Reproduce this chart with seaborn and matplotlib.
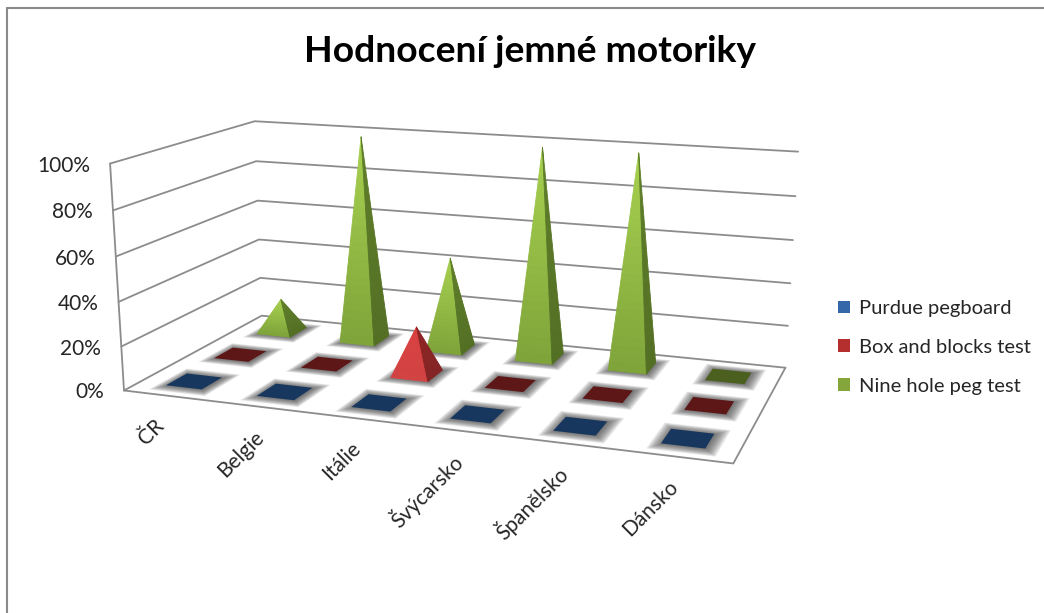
import numpy as np
import pandas as pd
import seaborn as sns
import matplotlib
matplotlib.use("Agg")
import matplotlib.pyplot as plt
from matplotlib.patches import Patch
from matplotlib.lines import Line2D
from mpl_toolkits.mplot3d.art3d import Poly3DCollection

# ---------- data ----------
countries = ["ČR", "Belgie", "Itálie", "Švýcarsko", "Španělsko", "Dánsko"]
series_names = ["Purdue pegboard", "Box and blocks test", "Nine hole peg test"]
purdue = [0, 0, 0, 0, 0, 0]
box_blocks = [0, 0, 22, 0, 0, 0]
nine_hole = [16, 99, 44, 99, 99, 0]
value_ticks = [0, 20, 40, 60, 80, 100]
title_text = "Hodnocení jemné motoriky"

df = pd.DataFrame({"country": countries, series_names[0]: purdue,
                   series_names[1]: box_blocks, series_names[2]: nine_hole})

# ---------- style ----------
sns.set_theme(style="white", rc={"font.family": ["Lato", "DejaVu Sans"]})
plt.rcParams["font.family"] = ["Lato", "DejaVu Sans"]
TEXT = "#262626"
GRID = "#8c8c8c"
styles = {
    series_names[0]: dict(flat="#17375e", lt="#4f81bd", lb="#385d8a", rt="#2a4a70", rb="#24405f", leg="#3468a8"),
    series_names[1]: dict(flat="#5e1717", lt="#d93f3f", lb="#d24343", rt="#8e2424", rb="#842424", leg="#b52f2f"),
    series_names[2]: dict(flat="#4b601f", lt="#a6d04f", lb="#7fa43a", rt="#5f7f2a", rb="#536f24", leg="#84a63a"),
}

fig = plt.figure(figsize=(10.44, 6.13), dpi=100, facecolor="white")
W, H = 1044.0, 613.0
ax = fig.add_axes([0, (H - W) / 2 / H, 1, W / H], projection="3d", computed_zorder=False)
ax.set_axis_off()
ax.set_xlim(0, 6); ax.set_ylim(0, 3); ax.set_zlim(0, 1)

# ---------- camera: x = category band, y = series band (0 front), z = share ----------
world = np.array([
    (0, 0, 0), (6, 0, 0), (6, 3, 0), (0, 3, 0),
    (0, 0, 1), (0, 0, .8), (0, 0, .6), (0, 0, .4), (0, 0, .2),
    (0, 3, 1), (0, 3, .8), (0, 3, .6), (0, 3, .4), (0, 3, .2),
    (6, 3, 1), (6, 3, .2), (6, 3, .4),
], float)
pixel = np.array([
    (123, 391), (733, 464), (785, 367), (262, 316),
    (110, 163), (113, 210), (116, 257), (119, 302), (122, 346),
    (254, 122), (256, 161), (258, 200.5), (259, 239), (260, 278),
    (798, 152), (788, 326), (791, 283),
], float)
A = []
for (X, Y, Z), (u, v) in zip(world, pixel):
    A.append([X, Y, Z, 1, 0, 0, 0, 0, -u * X, -u * Y, -u * Z, -u])
    A.append([0, 0, 0, 0, X, Y, Z, 1, -v * X, -v * Y, -v * Z, -v])
P = np.linalg.svd(np.array(A))[2][-1].reshape(3, 4)
P = P / P[2, 3]


def to_pixel(x, y, z):
    u, v, w = P @ np.array([x, y, z, 1.0])
    return u / w, v / w


def get_proj():
    # display coordinates of the square axes are figure pixels (origin bottom-left)
    T = ax.transData.inverted().get_matrix()
    rx = P[0]
    ry = H * P[2] - P[1]
    row_x = T[0, 0] * rx + T[0, 1] * ry + T[0, 2] * P[2]
    row_y = T[1, 0] * rx + T[1, 1] * ry + T[1, 2] * P[2]
    return np.array([row_x, row_y, [0, -1.0, 0, -0.01], P[2]])


ax.get_proj = get_proj


def label_at(px, py, s, **kw):
    ax.text2D(px / W, 1 - py / H, s, transform=fig.transFigure, color=TEXT, zorder=500, **kw)


# ---------- walls and floor ----------
for v in value_ticks:
    z = v / 100
    ax.plot([0, 0, 6], [0, 3, 3], [z, z, z], color=GRID, lw=1.3, zorder=1)
    u, w = to_pixel(0, 0, z)
    label_at(u - 20, w + 2, f"{v}%", ha="right", va="center", fontsize=15)
ax.plot([0, 0], [0, 0], [0, 1], color=GRID, lw=1.3, zorder=1)
ax.plot([0, 6, 6], [0, 0, 3], [0, 0, 0], color=GRID, lw=1.3, zorder=1)

for i, c in enumerate(countries):
    u, w = to_pixel(i + 0.5, 0, 0)
    nudge = 7 if i == 0 else 0
    label_at(u - 1 - nudge, w + 27, c, rotation=45, rotation_mode="anchor", ha="right", va="center", fontsize=15)

# ---------- pyramids ----------
HX, HY = 0.2, 0.21
zo = 10


def square(cx, cy, hx, hy):
    return [(cx - hx, cy - hy, 0), (cx + hx, cy - hy, 0), (cx + hx, cy + hy, 0), (cx - hx, cy + hy, 0)]


for row in [2, 1, 0]:
    name = series_names[row]
    st = styles[name]
    for col in range(len(countries)):
        val = df[name].iloc[col] / 100
        cx, cy = col + 0.5, row + 0.5
        # soft floor shadow
        for d in np.linspace(0.11, 0.0, 12):
            g = Poly3DCollection([square(cx + 0.008, cy, HX + d, HY + d * 1.5)],
                                 facecolors=[(0.25, 0.25, 0.25, 0.09)], linewidths=0, zorder=zo)
            ax.add_collection3d(g, autolim=False)
        zo += 1
        if val == 0:
            pc = Poly3DCollection([square(cx, cy, HX, HY)], facecolors=[st["flat"]],
                                  edgecolors="none", linewidths=0, zorder=zo)
            ax.add_collection3d(pc, autolim=False)
            zo += 1
            continue
        n = 24
        fr = np.linspace(0, 1, n + 1)
        apex = np.array([cx, cy, val])
        corners = {"fl": np.array([cx - HX, cy - HY, 0.0]), "fr": np.array([cx + HX, cy - HY, 0.0]),
                   "br": np.array([cx + HX, cy + HY, 0.0])}
        for a, b, top, bot in [("fl", "fr", st["lt"], st["lb"]), ("fr", "br", st["rt"], st["rb"])]:
            cols = sns.blend_palette([bot, top], n)
            polys = []
            for j in range(n):
                p0 = corners[a] + (apex - corners[a]) * fr[j]
                p1 = corners[b] + (apex - corners[b]) * fr[j]
                p2 = corners[b] + (apex - corners[b]) * fr[j + 1]
                p3 = corners[a] + (apex - corners[a]) * fr[j + 1]
                polys.append([p0, p1, p2, p3])
            pc = Poly3DCollection(polys, facecolors=cols, edgecolors=cols, linewidths=0.6, zorder=zo)
            ax.add_collection3d(pc, autolim=False)
            zo += 1

# ---------- title, legend, frame ----------
fig.text(530 / W, 1 - 52 / H, title_text, ha="center", va="center", fontsize=26.8, fontweight="bold", color="black")
handles = [Patch(facecolor=styles[n]["leg"], edgecolor="none", label=n) for n in series_names]
fig.legend(handles=handles, loc="upper left", bbox_to_anchor=(838 / W, 1 - 300 / H), frameon=False,
           fontsize=14.5, handlelength=0.6, handleheight=0.6, handletextpad=0.42, labelspacing=1.09,
           labelcolor=TEXT, borderpad=0, borderaxespad=0)
frame = "#8a8a8a"
fig.add_artist(Line2D([7 / W, 7 / W], [1 - 8 / H, 0.0], transform=fig.transFigure, color=frame, lw=1.5))
fig.add_artist(Line2D([7 / W, 1.0], [1 - 8 / H, 1 - 8 / H], transform=fig.transFigure, color=frame, lw=1.5))

fig.savefig("out.png", dpi=100)
